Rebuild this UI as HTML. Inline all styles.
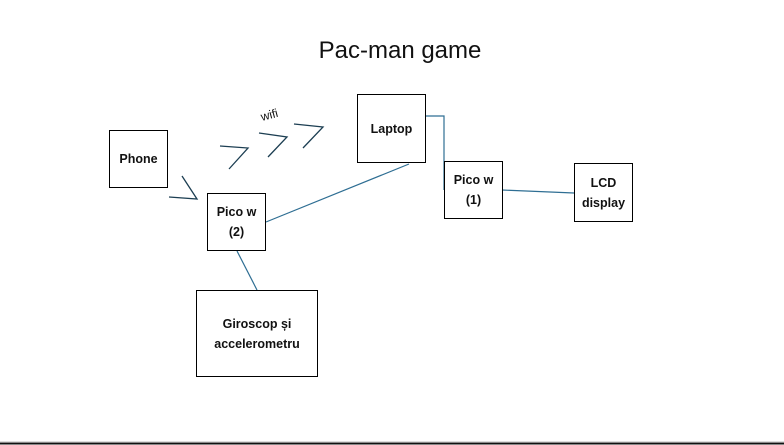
<!DOCTYPE html>
<html><head><style>
html,body{margin:0;padding:0;background:#fff;}
body{width:784px;height:445px;position:relative;overflow:hidden;font-family:"Liberation Sans",Calibri,sans-serif;}
.b{position:absolute;border:1.3px solid #000;box-sizing:border-box;display:flex;align-items:center;justify-content:center;text-align:center;font-weight:bold;font-size:12.5px;line-height:20px;color:#111;}
</style></head><body>
<div style="position:absolute;left:0;top:37px;width:800px;text-align:center;font-size:24px;color:#111;">Pac-man game</div>
<svg width="784" height="445" style="position:absolute;left:0;top:0">
<g stroke="#2e6e93" stroke-width="1.2" fill="none">
<line x1="266" y1="222" x2="409" y2="164"/>
<polyline points="425,116 444,116 444,190"/>
<line x1="502" y1="190" x2="574" y2="193"/>
<line x1="237" y1="251" x2="257" y2="290"/>
</g>
<g stroke="#1c3e52" stroke-width="1.3" fill="none">
<polyline points="220,146 248,148 229,169"/>
<polyline points="259,133 287,137 268,157"/>
<polyline points="294,124 323,127 303,148"/>
<polyline points="182,176 197,199 169,197"/>
</g>
<text x="262" y="121" font-size="12" fill="#111" transform="rotate(-15 262 121)" font-family="Liberation Sans, sans-serif">wifi</text>
<line x1="0" y1="443.5" x2="784" y2="443.5" stroke="#111" stroke-width="2"/>
<line x1="0" y1="441.5" x2="784" y2="441.5" stroke="#ddd" stroke-width="1"/>
</svg>
<div class="b" style="left:109px;top:130px;width:59px;height:58px;">Phone</div>
<div class="b" style="left:357px;top:94px;width:69px;height:69px;">Laptop</div>
<div class="b" style="left:207px;top:193px;width:59px;height:58px;">Pico w<br>(2)</div>
<div class="b" style="left:444px;top:161px;width:59px;height:58px;">Pico w<br>(1)</div>
<div class="b" style="left:574px;top:163px;width:59px;height:59px;">LCD<br>display</div>
<div class="b" style="left:196px;top:290px;width:122px;height:87px;">Giroscop și<br>accelerometru</div>
</body></html>
